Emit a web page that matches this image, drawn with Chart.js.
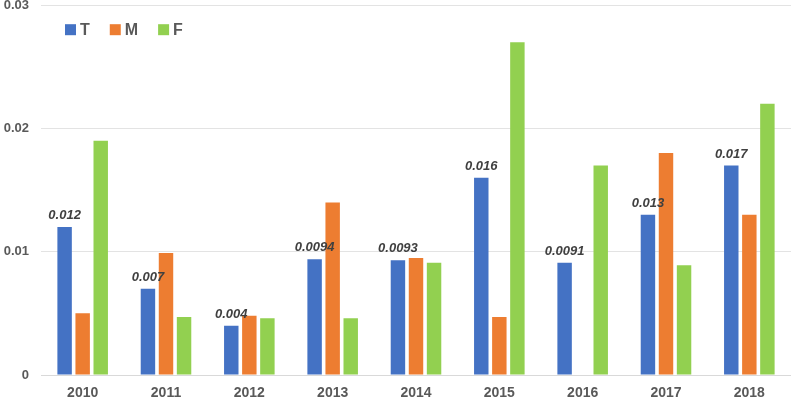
<!DOCTYPE html>
<html>
<head>
<meta charset="utf-8">
<script src="https://cdn.jsdelivr.net/npm/chart.js@4.4.1/dist/chart.umd.min.js"></script>
<style>
  html, body { margin: 0; padding: 0; background: #fff; }
  #wrap { width: 791px; height: 400px; position: relative; }
</style>
</head>
<body>
<div id="wrap"><canvas id="chart"></canvas></div>
<script>
const years = ["2010", "2011", "2012", "2013", "2014", "2015", "2016", "2017", "2018"];
const tValues = [0.012, 0.007, 0.004, 0.0094, 0.0093, 0.016, 0.0091, 0.013, 0.017];
const mValues = [0.005, 0.0099, 0.0048, 0.014, 0.0095, 0.0047, null, 0.018, 0.013];
const fValues = [0.019, 0.0047, 0.0046, 0.0046, 0.0091, 0.027, 0.017, 0.0089, 0.022];
const yTicks = [0, 0.01, 0.02, 0.03];

const FONT = "'Liberation Sans', Arial, sans-serif";

// value labels above the blue bars only
const tLabelPlugin = {
  id: "tLabelPlugin",
  afterDatasetsDraw(chart) {
    const { ctx } = chart;
    const meta = chart.getDatasetMeta(0);
    ctx.save();
    ctx.font = "italic bold 13px " + FONT;
    ctx.fillStyle = "#404040";
    ctx.textAlign = "center";
    ctx.textBaseline = "bottom";
    meta.data.forEach((bar, i) => {
      ctx.fillText(String(tValues[i]), bar.x, bar.y - 5);
    });
    ctx.restore();
  },
};

// horizontal legend inside the plot, top-left
const insideLegend = {
  id: "insideLegend",
  afterDraw(chart) {
    const { ctx, chartArea } = chart;
    let x = chartArea.left + 24;
    const y = chartArea.top + 24;
    ctx.save();
    ctx.font = "bold 16px " + FONT;
    ctx.textBaseline = "middle";
    ctx.textAlign = "left";
    chart.data.datasets.forEach((ds) => {
      ctx.fillStyle = ds.backgroundColor;
      ctx.fillRect(x, y - 5, 11, 11);
      ctx.fillStyle = "#595959";
      ctx.fillText(ds.label, x + 15, y + 1);
      x += 15 + ctx.measureText(ds.label).width + 20;
    });
    ctx.restore();
  },
};

new Chart(document.getElementById("chart"), {
  type: "bar",
  data: {
    labels: years,
    datasets: [
      { label: "T", data: tValues, backgroundColor: "#4472c4" },
      { label: "M", data: mValues, backgroundColor: "#ed7d31" },
      { label: "F", data: fValues, backgroundColor: "#92d050" },
    ],
  },
  options: {
    responsive: true,
    maintainAspectRatio: false,
    animation: false,
    layout: { padding: 0 },
    datasets: { bar: { categoryPercentage: 0.65, barPercentage: 0.8 } },
    plugins: {
      tooltip: { enabled: false },
      legend: { display: false },
    },
    scales: {
      x: {
        grid: { display: false, drawTicks: false },
        border: { color: "#d9d9d9" },
        ticks: { color: "#595959", font: { family: FONT, size: 14, weight: "bold" }, padding: 10 },
        afterFit: (axis) => { axis.height = 25; },
      },
      y: {
        min: 0,
        max: 0.03,
        afterBuildTicks: (axis) => { axis.ticks = yTicks.map((v) => ({ value: v })); },
        afterFit: (axis) => { axis.width = 41; },
        grid: { color: "#e3e3e3", drawTicks: true, tickLength: 12, tickColor: "rgba(0,0,0,0)" },
        border: { display: false },
        ticks: {
          color: "#595959",
          font: { family: FONT, size: 13, weight: "bold", lineHeight: 0.8 },
          padding: 0,
          callback: (v) => String(v),
        },
      },
    },
  },
  plugins: [tLabelPlugin, insideLegend],
});
</script>
</body>
</html>
